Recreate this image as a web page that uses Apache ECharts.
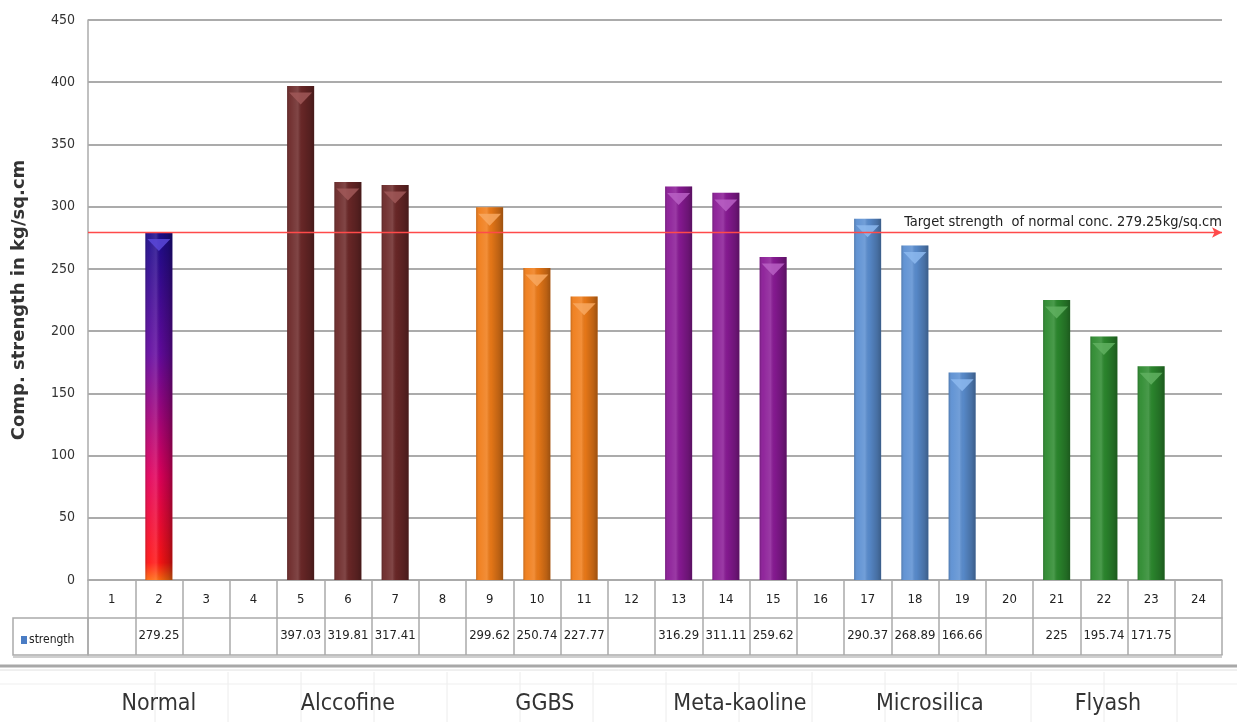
<!DOCTYPE html>
<html>
<head>
<meta charset="utf-8">
<title>Compressive strength</title>
<script src="https://cdn.jsdelivr.net/npm/echarts@6/dist/echarts.min.js"></script>
<style>
  html, body { margin: 0; padding: 0; background: #ffffff; }
  #chart { width: 1237px; height: 722px; }
</style>
</head>
<body>
<div id="chart"></div>
<script>
// Mix numbers 1..24 along the category axis
const categories = ['1','2','3','4','5','6','7','8','9','10','11','12','13','14','15','16','17','18','19','20','21','22','23','24'];

// Compressive strength (kg/sq.cm); null = empty spacer column
const strength = [null, 279.25, null, null, 397.03, 319.81, 317.41, null, 299.62, 250.74, 227.77, null,
                  316.29, 311.11, 259.62, null, 290.37, 268.89, 166.66, null, 225, 195.74, 171.75, null];

// Admixture groups: group g spans columns 4g+1 .. 4g+3 (Normal uses only column 2)
const groupNames = ['Normal', 'Alccofine', 'GGBS', 'Meta-kaoline', 'Microsilica', 'Flyash'];

// Reference line: strength of the normal mix
const targetStrength = 279.25;
const targetLabel = 'Target strength  of normal conc. 279.25kg/sq.cm';

const yMin = 0, yMax = 450, yStep = 50;

const NARROW = "'Liberation Sans Narrow', 'DejaVu Sans Condensed', 'Arial Narrow', sans-serif";
const GRID_GRAY = '#ababab';

const groupOf = i => Math.floor(i / 4);

// Fill colours per group (Normal gets a vertical blue -> red blend)
const groupFill = [
  new echarts.graphic.LinearGradient(0, 0, 0, 1, [
    { offset: 0, color: '#1c0c8c' },
    { offset: 0.35, color: '#640aa0' },
    { offset: 0.7, color: '#e2005c' },
    { offset: 0.95, color: '#ff1414' },
    { offset: 1, color: '#ff6a10' }
  ]),
  '#6c2828',
  '#f07c18',
  '#8a1a96',
  '#5b8fd2',
  '#2c8a2e'
];

// Lighter tint used for the bevelled cap of each bar
const groupCap = ['#5a48d8', '#a05858', '#f8a860', '#b860c4', '#8cb8ee', '#60b060'];

const mainData = strength.map((v, i) => v == null ? null : ({
  value: v,
  itemStyle: { color: groupFill[groupOf(i)] }
}));

const capData = strength.map((v, i) => v == null ? null : ({
  value: v,
  itemStyle: { color: groupCap[groupOf(i)] }
}));

// Cylindrical shading laid over every bar
const shade = new echarts.graphic.LinearGradient(0, 0, 1, 0, [
  { offset: 0, color: 'rgba(0,0,0,0.18)' },
  { offset: 0.12, color: 'rgba(255,255,255,0.05)' },
  { offset: 0.4, color: 'rgba(255,255,255,0.14)' },
  { offset: 0.55, color: 'rgba(0,0,0,0.05)' },
  { offset: 0.85, color: 'rgba(0,0,0,0.22)' },
  { offset: 1, color: 'rgba(0,0,0,0.35)' }
]);

// Group-name nudges so each name sits over its block of columns
const groupRich = {
  g0: { fontFamily: NARROW, fontSize: 23, color: '#333', padding: [0, 0, 0, 0] },
  g1: { fontFamily: NARROW, fontSize: 23, color: '#333', padding: [0, 0, 0, 0] },
  g2: { fontFamily: NARROW, fontSize: 23, color: '#333', padding: [0, 0, 0, 16] },
  g3: { fontFamily: NARROW, fontSize: 23, color: '#333', padding: [0, 0, 0, 28] },
  g4: { fontFamily: NARROW, fontSize: 23, color: '#333', padding: [0, 0, 0, 30] },
  g5: { fontFamily: NARROW, fontSize: 23, color: '#333', padding: [0, 0, 0, 8] }
};

const chart = echarts.init(document.getElementById('chart'), null, { renderer: 'canvas' });

// Faint sheet cells under the table
const sheetLines = [];
for (let x = 155; x < 1237; x += 73) {
  sheetLines.push({ type: 'line', shape: { x1: x, y1: 672, x2: x, y2: 722 }, style: { stroke: '#ececec', lineWidth: 1 }, silent: true });
}
sheetLines.push({ type: 'line', shape: { x1: 0, y1: 684, x2: 1237, y2: 684 }, style: { stroke: '#efefef', lineWidth: 1 }, silent: true });

chart.setOption({
  backgroundColor: '#ffffff',
  animation: false,
  grid: { left: 88, right: 15, top: 20, bottom: 142, containLabel: false },
  legend: {
    data: ['strength'],
    left: 16, top: 629,
    icon: 'rect', itemWidth: 6, itemHeight: 8, itemGap: 2,
    textStyle: { fontFamily: NARROW, fontSize: 12, color: '#222', padding: [0, 0, 0, -3] }
  },
  xAxis: [
    {
      type: 'category', data: categories, position: 'bottom',
      axisLine: { show: true, lineStyle: { color: GRID_GRAY, width: 1.5 } },
      axisTick: { show: true, interval: 0, length: 75, lineStyle: { color: GRID_GRAY, width: 1.5 } },
      axisLabel: { interval: 0, margin: 13, fontFamily: NARROW, fontSize: 13, color: '#222' }
    },
    {
      type: 'category', data: categories, position: 'bottom', offset: 38,
      axisLine: { show: true, lineStyle: { color: GRID_GRAY, width: 1.5 } },
      axisTick: { show: false },
      axisLabel: {
        interval: 0, margin: 11, fontFamily: NARROW, fontSize: 13, color: '#222',
        formatter: (val, idx) => strength[idx] == null ? '' : String(strength[idx])
      }
    },
    {
      type: 'category', data: categories, position: 'bottom', offset: 75,
      axisLine: { show: true, lineStyle: { color: GRID_GRAY, width: 1.5 } },
      axisTick: { show: false },
      axisLabel: { show: false }
    },
    {
      type: 'category', data: categories, position: 'bottom', offset: 75,
      axisLine: { show: false }, axisTick: { show: false },
      axisLabel: {
        interval: 0, margin: 38, fontFamily: NARROW, fontSize: 23, color: '#333',
        rich: groupRich,
        formatter: (val, idx) => (idx % 4 === 1) ? '{g' + groupOf(idx) + '|' + groupNames[groupOf(idx)] + '}' : ''
      }
    }
  ],
  yAxis: {
    type: 'value', min: yMin, max: yMax, interval: yStep,
    name: 'Comp. strength in kg/sq.cm', nameLocation: 'middle', nameRotate: 90, nameGap: 60,
    nameTextStyle: { fontFamily: "'DejaVu Sans', sans-serif", fontWeight: 'bold', fontSize: 18, color: '#333' },
    axisLine: { show: true, lineStyle: { color: GRID_GRAY, width: 1.5 } },
    axisTick: { show: false },
    axisLabel: { margin: 13, fontFamily: NARROW, fontSize: 14, color: '#333' },
    splitLine: { show: true, lineStyle: { color: GRID_GRAY, width: 2 } }
  },
  series: [
    {
      name: 'strength', type: 'bar', data: mainData, barWidth: 27,
      itemStyle: { color: '#4a7cc4' },
      markLine: {
        silent: true,
        symbol: ['none', 'arrow'], symbolSize: [8, 10],
        lineStyle: { color: '#ff4a4a', width: 1.3, type: 'solid' },
        label: {
          show: true, position: 'insideEndTop', distance: [0, 3],
          formatter: targetLabel,
          fontFamily: NARROW, fontSize: 14.5, color: '#222'
        },
        data: [{ yAxis: targetStrength }]
      }
    },
    {
      name: 'shade', type: 'bar', data: strength, barWidth: 27, barGap: '-100%',
      itemStyle: { color: shade }, silent: true, z: 3
    },
    {
      name: 'cap', type: 'pictorialBar', data: capData, barWidth: 27,
      symbol: 'triangle', symbolRotate: 180, symbolSize: [23, 12],
      symbolPosition: 'end', symbolOffset: [0, '55%'],
      itemStyle: { opacity: 0.85 }, silent: true, z: 4
    }
  ],
  graphic: [
    // legend cell of the data table
    { type: 'rect', shape: { x: 13, y: 618, width: 75, height: 37 }, style: { fill: 'none', stroke: GRID_GRAY, lineWidth: 1.5 }, silent: true },
    // table bottom shadow and sheet divider
    { type: 'line', shape: { x1: 13, y1: 657, x2: 1222, y2: 657 }, style: { stroke: '#cfcfcf', lineWidth: 2 }, silent: true },
    { type: 'line', shape: { x1: 0, y1: 666, x2: 1237, y2: 666 }, style: { stroke: '#a8a8a8', lineWidth: 3 }, silent: true },
    { type: 'line', shape: { x1: 0, y1: 670, x2: 1237, y2: 670 }, style: { stroke: '#e0e0e0', lineWidth: 1 }, silent: true }
  ].concat(sheetLines)
});
</script>
</body>
</html>
